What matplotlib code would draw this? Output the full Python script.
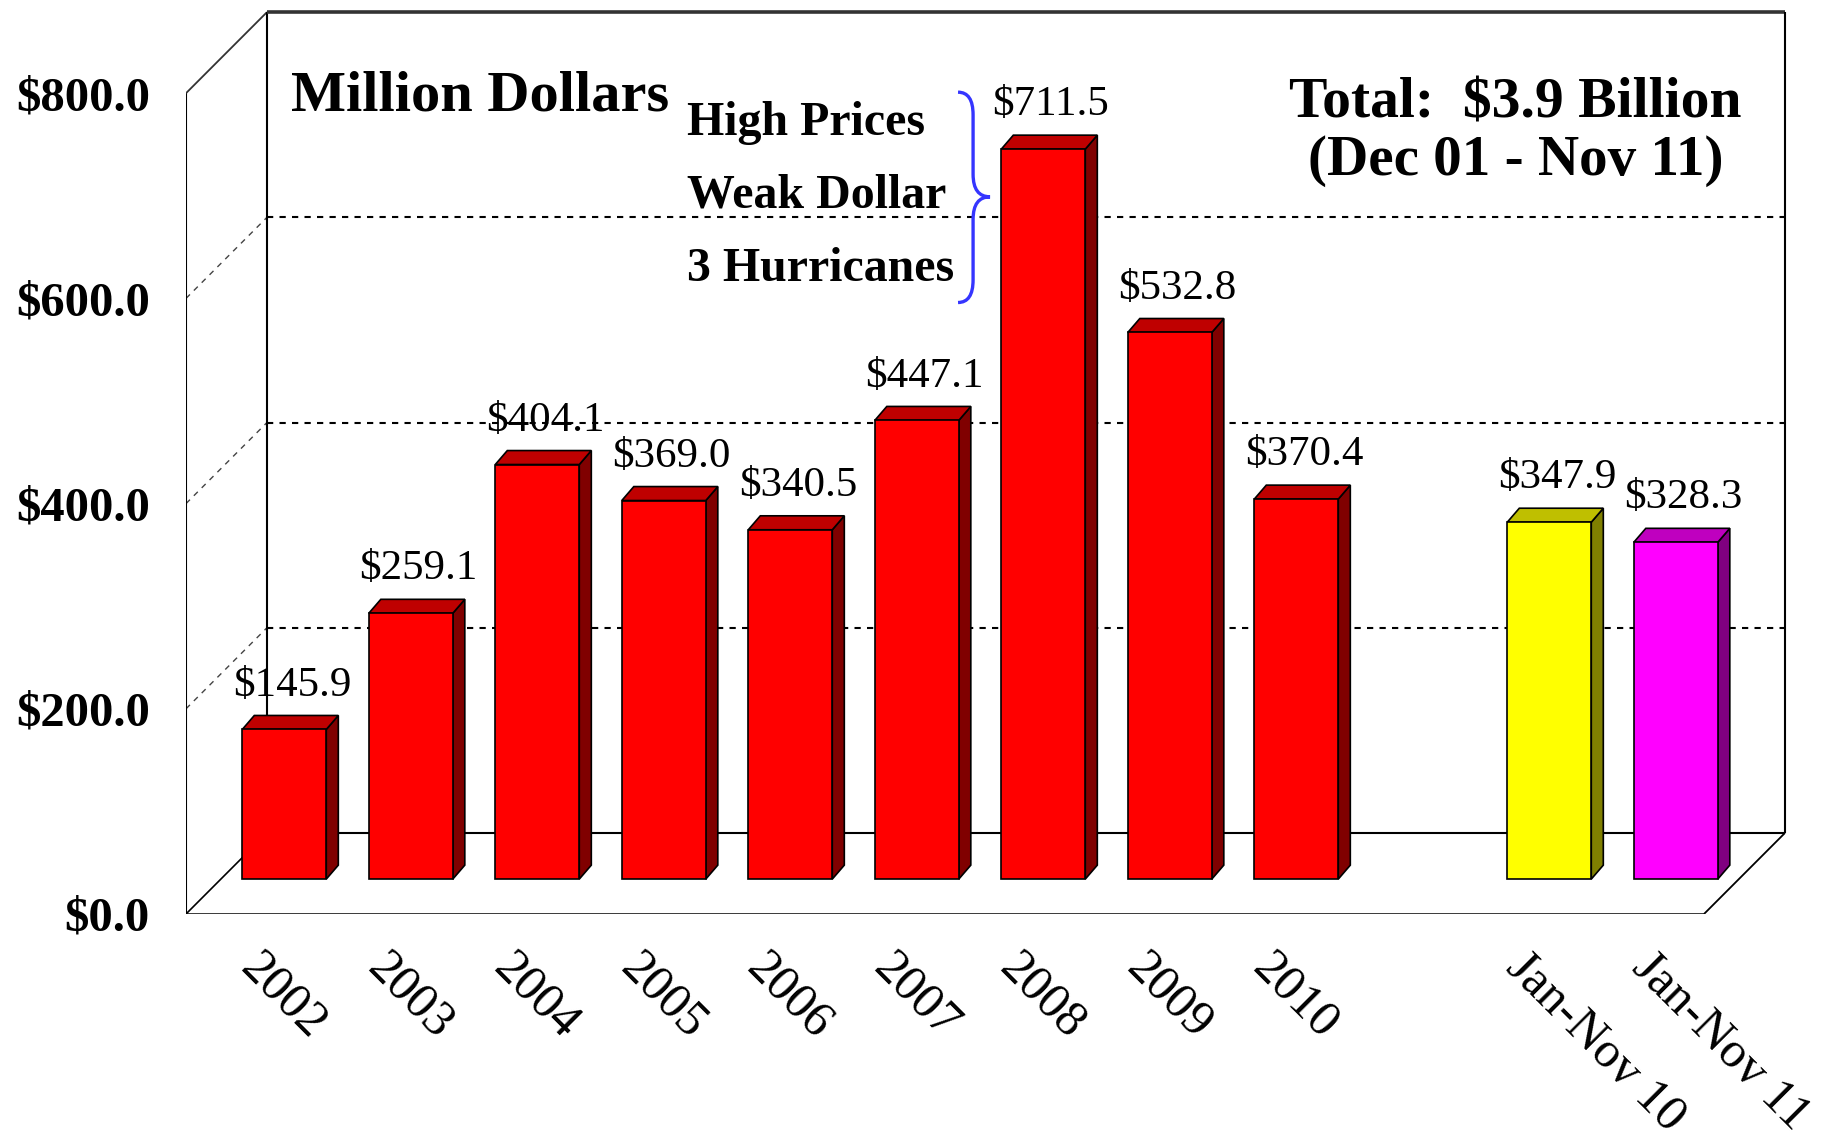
import matplotlib
matplotlib.use("Agg")
import matplotlib.pyplot as plt
from matplotlib.patches import Polygon, Rectangle, PathPatch
from matplotlib.path import Path

# ---------------- data ----------------
categories = ["2002", "2003", "2004", "2005", "2006", "2007", "2008", "2009", "2010",
              "Jan-Nov 10", "Jan-Nov 11"]
values = [145.9, 259.1, 404.1, 369.0, 340.5, 447.1, 711.5, 532.8, 370.4, 347.9, 328.3]
slots = [0, 1, 2, 3, 4, 5, 6, 7, 8, 10, 11]          # slot 9 is left empty
front_colors = ["#FF0000"] * 9 + ["#FFFF00", "#FF00FF"]
top_colors = ["#BF0000"] * 9 + ["#BFBF00", "#BF00BF"]
side_colors = ["#800000"] * 9 + ["#808000", "#800080"]
ytick_values = [0, 200, 400, 600, 800]
ytick_labels = ["$0.0", "$200.0", "$400.0", "$600.0", "$800.0"]
grid_values = [200, 400, 600]
notes = ["High Prices", "Weak Dollar", "3 Hurricanes"]

# ---------------- geometry ----------------
W, H, DPI = 1826, 1138, 100
X_PX = 126.5      # pixels per category slot
Y_PX = 1.026      # pixels per value unit
AX_LEFT, AX_BOTTOM = 186, 224
N_SLOTS = 12
DX, DY = 0.64, 79.0        # depth of the floor / back wall
BX, BY = 0.277, 34.0       # depth position of the bars
BW = 0.664                 # bar width
bdx, bdy = 0.095, 13.6     # bar 3-D depth

FONT = "Liberation Serif"
plt.rcParams["font.family"] = [FONT, "DejaVu Serif"]

fig = plt.figure(figsize=(W / DPI, H / DPI), dpi=DPI)
ax = fig.add_axes([AX_LEFT / W, AX_BOTTOM / H, (W - AX_LEFT) / W, (H - AX_BOTTOM) / H])
ax.set_xlim(-0.5, -0.5 + (W - AX_LEFT) / X_PX)
ax.set_ylim(0, (H - AX_BOTTOM) / Y_PX)
for s in ax.spines.values():
    s.set_visible(False)

x0 = -0.5
x1 = -0.5 + N_SLOTS
ymax = ytick_values[-1]

# ---------------- frame ----------------
def line(xs, ys, **kw):
    kw.setdefault("color", "black")
    kw.setdefault("lw", 1.5)
    ax.plot(xs, ys, solid_capstyle="butt", **kw)

line([x0, x0], [0, ymax])                                   # front axis
line([x0, x0 + DX], [ymax, ymax + DY], lw=1.3, color="#333333")
line([x0 + DX, x0 + DX], [DY, ymax + DY])                   # back-left edge
line([x0 + DX, x1 + DX], [ymax + DY, ymax + DY], lw=2.6, color="#333333")
line([x1 + DX, x1 + DX], [DY, ymax + DY])                   # back-right edge
line([x0 + DX, x1 + DX], [DY, DY])                          # back floor
line([x0, x1], [0, 0], lw=1.8)                              # front floor
line([x0, x0 + DX], [0, DY], lw=1.2)
line([x1, x1 + DX], [0, DY], lw=1.3)

for g in grid_values:
    ax.plot([x0 + DX, x1 + DX], [g + DY, g + DY], color="black", lw=1.5,
            linestyle=(0, (3, 3)), zorder=1)
    ax.plot([x0, x0 + DX], [g, g + DY], color="#444444", lw=1.0,
            linestyle=(0, (4, 4)), zorder=1)

# ---------------- bars ----------------
for s, v, fc, tc, sc in zip(slots, values, front_colors, top_colors, side_colors):
    xl = s + BX - BW / 2
    xr = xl + BW
    y0 = BY
    top = BY + v
    ax.add_patch(Polygon([(xr, y0), (xr + bdx, y0 + bdy), (xr + bdx, top + bdy), (xr, top)],
                         closed=True, fc=sc, ec="black", lw=1.2, zorder=3))
    ax.add_patch(Polygon([(xl, top), (xr, top), (xr + bdx, top + bdy), (xl + bdx, top + bdy)],
                         closed=True, fc=tc, ec="black", lw=1.2, zorder=3))
    ax.add_patch(Rectangle((xl, y0), BW, v, fc=fc, ec="black", lw=1.2, zorder=4))
    ax.text(s + BX + 0.06, top + 33, f"${v:.1f}", ha="center", va="baseline",
            fontsize=31, color="black", zorder=5)

# ---------------- axes ticks ----------------
ax.set_yticks(ytick_values)
ax.set_yticklabels(ytick_labels, fontsize=35, fontweight="bold")
ax.set_xticks([s + 0.12 for s in slots])
ax.set_xticklabels(categories, fontsize=36)
ax.tick_params(axis="y", length=0, pad=26)
ax.tick_params(axis="x", length=0, pad=22)
for lab in ax.get_xticklabels():
    lab.set_rotation(-45)
    lab.set_rotation_mode("anchor")
    lab.set_ha("left")
    lab.set_va("top")

# ---------------- annotations ----------------
ax.text(0.33, 783, "Million Dollars", fontsize=42, fontweight="bold",
        ha="left", va="baseline")
for txt, yb in zip(notes, [759, 689, 617]):
    ax.text(3.46, yb, txt, fontsize=34.5, fontweight="bold", ha="left", va="baseline")
ax.text(10.01, 776, "Total:  $3.9 Billion", fontsize=41.5, fontweight="bold",
        ha="center", va="baseline")
ax.text(10.01, 720, "(Dec 01 - Nov 11)", fontsize=41, fontweight="bold",
        ha="center", va="baseline")

# curly brace
bx0, bxv, bxt = 5.603, 5.722, 5.856
ytop, ymid, ybot, r = 801, 699, 596, 22
verts = [(bx0, ytop), (bxv, ytop), (bxv, ytop - r),
         (bxv, ymid + r),
         (bxv, ymid), (bxt, ymid),
         (bxv, ymid), (bxv, ymid - r),
         (bxv, ybot + r),
         (bxv, ybot), (bx0, ybot)]
codes = [Path.MOVETO, Path.CURVE3, Path.CURVE3,
         Path.LINETO,
         Path.CURVE3, Path.CURVE3,
         Path.CURVE3, Path.CURVE3,
         Path.LINETO,
         Path.CURVE3, Path.CURVE3]
ax.add_patch(PathPatch(Path(verts, codes), fc="none", ec="#3535FF", lw=2.4, zorder=5))

fig.savefig("out.png", dpi=DPI)
